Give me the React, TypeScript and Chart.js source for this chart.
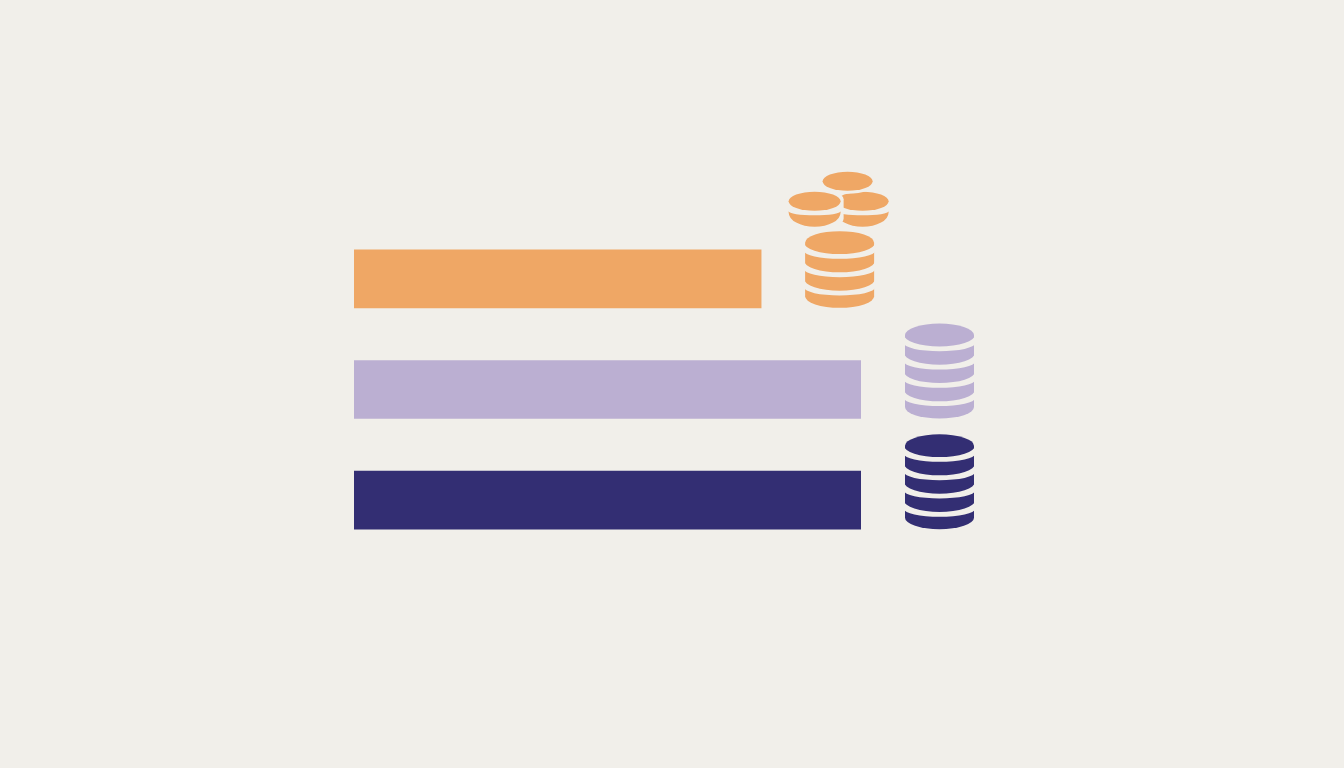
import { useEffect, useRef } from 'react'
import { Chart, registerables } from 'chart.js'

Chart.register(...registerables)

const categories = ['Orange', 'Purple', 'Navy']
const values = [80.3, 100, 100]
const barColors = ['#EFA765', '#BBAFD2', '#332E73']
const coinLayers = [3, 4, 4]

const PAGE_BG = '#F1EFEA'

// outline of a coin column: top ellipse arc, bottom ellipse arc
function columnPath(ctx: CanvasRenderingContext2D, cx: number, top: number, bottom: number, rx: number, ry: number) {
  ctx.beginPath()
  ctx.ellipse(cx, top + ry, rx, ry, 0, Math.PI, 0)
  ctx.ellipse(cx, bottom - ry, rx, ry, 0, 0, Math.PI)
  ctx.closePath()
}

// curved gap between two coins, wider at the sides than in the middle
function drawGap(ctx: CanvasRenderingContext2D, cx: number, y: number, rx: number, ry: number, half: number) {
  const flat = ry * 0.68
  ctx.fillStyle = PAGE_BG
  ctx.beginPath()
  ctx.ellipse(cx, y - half - ry, rx + 1, ry, 0, Math.PI, 0, true)
  ctx.ellipse(cx, y + half - flat, rx + 1, flat, 0, 0, Math.PI)
  ctx.closePath()
  ctx.fill()
}

function drawStack(ctx: CanvasRenderingContext2D, cx: number, bottom: number, layers: number, color: string) {
  const rx = 34.5
  const ry = 11.5
  const pitch = 18.3
  const top = bottom - (2 * ry + 17 + (layers - 1) * pitch)

  ctx.fillStyle = color
  columnPath(ctx, cx, top, bottom, rx, ry)
  ctx.fill()

  for (let i = 0; i < layers; i++) {
    drawGap(ctx, cx, top + 2 * ry + 2.2 + i * pitch, rx, ry, 2.4)
  }
}

// lower coin of a pile is only a lens showing under the upper one
function lensPath(ctx: CanvasRenderingContext2D, cx: number, cy: number, rx: number) {
  ctx.beginPath()
  ctx.ellipse(cx, cy + 10, rx, 4, 0, Math.PI, 0, true)
  ctx.ellipse(cx, cy + 11, rx, 14.5, 0, 0, Math.PI)
  ctx.closePath()
}

// small pile with a halo so it cuts into whatever is behind it
function drawPile(ctx: CanvasRenderingContext2D, cx: number, cy: number, rx: number, ry: number, double: boolean, color: string) {
  ctx.fillStyle = PAGE_BG
  columnPath(ctx, cx, cy - ry - 3, double ? cy + 28 : cy + ry + 3, rx + 3, ry + 1)
  ctx.fill()

  ctx.fillStyle = color
  ctx.beginPath()
  ctx.ellipse(cx, cy, rx, ry, 0, 0, Math.PI * 2)
  ctx.fill()
  if (double) {
    lensPath(ctx, cx, cy, rx)
    ctx.fill()
  }
}

const coinPlugin = {
  id: 'coins',
  afterDatasetsDraw(chart: Chart) {
    const ctx = chart.ctx
    const meta = chart.getDatasetMeta(0)
    ctx.save()
    meta.data.forEach((bar: any, i: number) => {
      const cx = bar.x + 44 + 34.5
      const bottom = bar.y + bar.height / 2
      drawStack(ctx, cx, bottom, coinLayers[i], barColors[i])
      // the shortest bar also gets the loose coins above its stack
      if (i === 0) {
        const base = bottom - 106.5
        drawPile(ctx, cx + 23, base, 26, 9.5, true, barColors[i])
        drawPile(ctx, cx + 8, base - 20, 25, 9.5, false, barColors[i])
        drawPile(ctx, cx - 25, base, 26, 9.5, true, barColors[i])
      }
    })
    ctx.restore()
  },
}

export default function App() {
  const canvasRef = useRef<HTMLCanvasElement>(null)

  useEffect(() => {
    if (!canvasRef.current) return

    const chart = new Chart(canvasRef.current, {
      type: 'bar',
      data: {
        labels: categories,
        datasets: [
          {
            data: values,
            backgroundColor: barColors,
            borderWidth: 0,
            barThickness: 58,
          },
        ],
      },
      options: {
        indexAxis: 'y',
        responsive: false,
        animation: false,
        layout: {
          padding: { left: 354, right: 483, top: 223.5, bottom: 212.5 },
        },
        plugins: {
          legend: { display: false },
          tooltip: { enabled: false },
        },
        scales: {
          x: { display: false, min: 0, max: 100 },
          y: { display: false },
        },
      },
      plugins: [coinPlugin],
    })

    return () => {
      chart.destroy()
    }
  }, [])

  return (
    <div style={{ position: 'fixed', left: 0, top: 0, width: 1344, height: 768, background: PAGE_BG }}>
      <canvas ref={canvasRef} width={1344} height={768} style={{ display: 'block' }} />
    </div>
  )
}
